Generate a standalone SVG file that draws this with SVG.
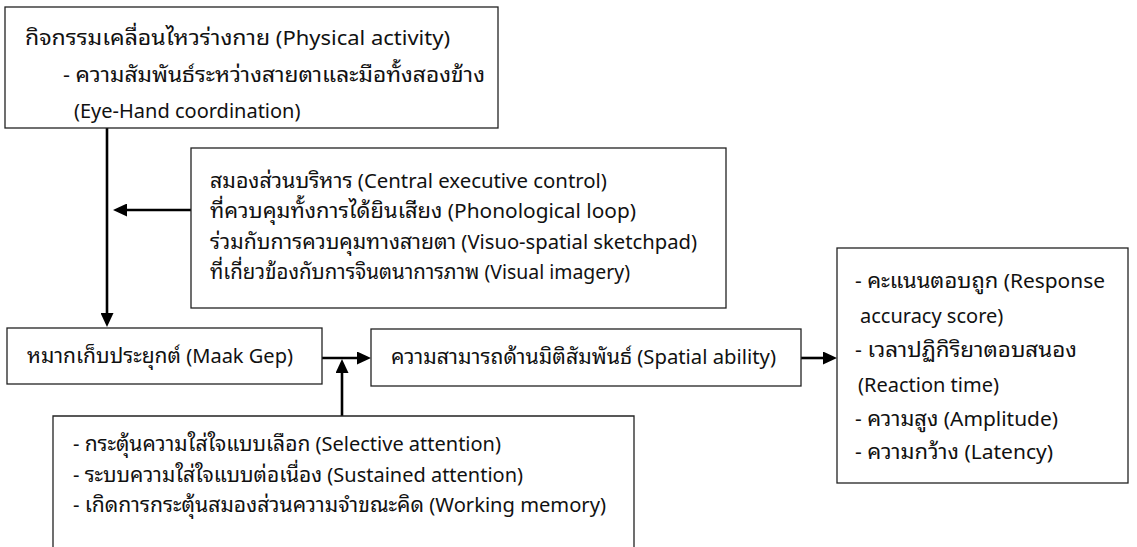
<svg xmlns="http://www.w3.org/2000/svg" width="1137" height="547" viewBox="0 0 1137 547">
<style>
.box{fill:#fff;stroke:#222;stroke-width:1.3}
.t{font-family:'Noto Sans Thai Looped','Noto Sans Thai','Leelawadee UI',Tahoma,'Noto Sans',sans-serif;font-size:20px;fill:#111}
.th{font-size:21px}
.c{fill:none;stroke:#000;stroke-width:2.6}
</style>
<defs>
<marker id="ah" markerUnits="userSpaceOnUse" viewBox="0 0 14 13" markerWidth="14" markerHeight="13" refX="0" refY="6.5" orient="auto">
<path d="M0,0 L14,6.5 L0,13 z" fill="#000"/>
</marker>
</defs>
<rect width="1137" height="547" fill="#fff"/>
<g id="connectors">
<path class="c" d="M107,128 V313" marker-end="url(#ah)"/>
<path class="c" d="M191,210 H127" marker-end="url(#ah)"/>
<path class="c" d="M322,358 H357" marker-end="url(#ah)"/>
<path class="c" d="M342,416 V373" marker-end="url(#ah)"/>
<path class="c" d="M801,358 H823" marker-end="url(#ah)"/>
</g>
<g id="physical">
<rect class="box" x="5" y="7" width="493" height="121"/>
<text class="t" x="25" y="45" textLength="425" lengthAdjust="spacingAndGlyphs"><tspan class="th">กิจกรรมเคลื่อนไหวร่างกาย</tspan> (Physical activity)</text>
<text class="t" x="63" y="82" textLength="422" lengthAdjust="spacingAndGlyphs">- <tspan class="th">ความสัมพันธ์ระหว่างสายตาและมือทั้งสองข้าง</tspan></text>
<text class="t" x="74" y="118">(Eye-Hand coordination)</text>
</g>
<g id="executive">
<rect class="box" x="191" y="148" width="535" height="160"/>
<text class="t" x="210" y="188" textLength="397" lengthAdjust="spacingAndGlyphs"><tspan class="th">สมองส่วนบริหาร</tspan> (Central executive control)</text>
<text class="t" x="210" y="218" textLength="426" lengthAdjust="spacingAndGlyphs"><tspan class="th">ที่ควบคุมทั้งการได้ยินเสียง</tspan> (Phonological loop)</text>
<text class="t" x="210" y="249" textLength="487" lengthAdjust="spacingAndGlyphs"><tspan class="th">ร่วมกับการควบคุมทางสายตา</tspan> (Visuo-spatial sketchpad)</text>
<text class="t" x="210" y="279" textLength="420" lengthAdjust="spacingAndGlyphs"><tspan class="th">ที่เกี่ยวข้องกับการจินตนาการภาพ</tspan> (Visual imagery)</text>
</g>
<g id="maakgep">
<rect class="box" x="7" y="328" width="315" height="56"/>
<text class="t" x="27" y="363" textLength="266" lengthAdjust="spacingAndGlyphs"><tspan class="th">หมากเก็บประยุกต์</tspan> (Maak Gep)</text>
</g>
<g id="spatial">
<rect class="box" x="371" y="329" width="430" height="57"/>
<text class="t" x="391" y="364" textLength="385" lengthAdjust="spacingAndGlyphs"><tspan class="th">ความสามารถด้านมิติสัมพันธ์</tspan> (Spatial ability)</text>
</g>
<g id="outcomes">
<rect class="box" x="837" y="248" width="291" height="235"/>
<text class="t" x="855" y="288" textLength="250" lengthAdjust="spacingAndGlyphs">- <tspan class="th">คะแนนตอบถูก</tspan> (Response</text>
<text class="t" x="860" y="323">accuracy score)</text>
<text class="t" x="855" y="357" textLength="222" lengthAdjust="spacingAndGlyphs">- <tspan class="th">เวลาปฏิกิริยาตอบสนอง</tspan></text>
<text class="t" x="858" y="392">(Reaction time)</text>
<text class="t" x="855" y="426" textLength="203" lengthAdjust="spacingAndGlyphs">- <tspan class="th">ความสูง</tspan> (Amplitude)</text>
<text class="t" x="855" y="459" textLength="198" lengthAdjust="spacingAndGlyphs">- <tspan class="th">ความกว้าง</tspan> (Latency)</text>
</g>
<g id="attention">
<path class="box" d="M53,550 V416 H634 V550"/>
<text class="t" x="73" y="451" textLength="428" lengthAdjust="spacingAndGlyphs">- <tspan class="th">กระตุ้นความใส่ใจแบบเลือก</tspan> (Selective attention)</text>
<text class="t" x="73" y="482" textLength="450" lengthAdjust="spacingAndGlyphs">- <tspan class="th">ระบบความใส่ใจแบบต่อเนื่อง</tspan> (Sustained attention)</text>
<text class="t" x="73" y="512" textLength="533" lengthAdjust="spacingAndGlyphs">- <tspan class="th">เกิดการกระตุ้นสมองส่วนความจำขณะคิด</tspan> (Working memory)</text>
</g>
</svg>
